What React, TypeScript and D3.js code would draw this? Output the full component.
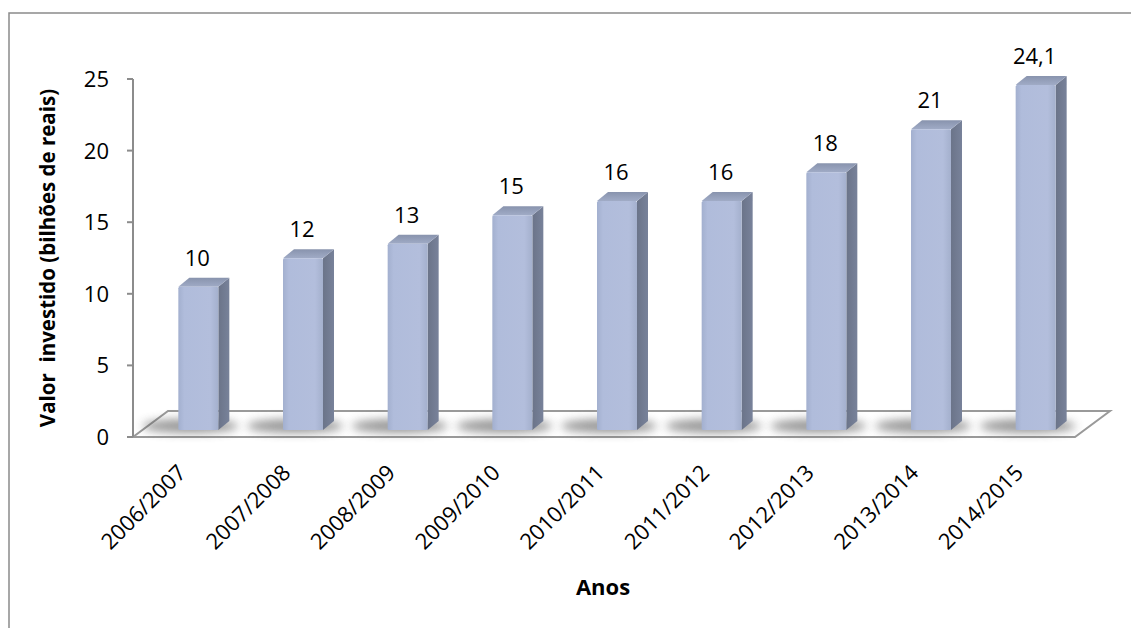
import React from "react";
import * as d3 from "d3";

const categories = ["2006/2007", "2007/2008", "2008/2009", "2009/2010", "2010/2011", "2011/2012", "2012/2013", "2013/2014", "2014/2015"];
const values = [10, 12, 13, 15, 16, 16, 18, 21, 24.1];
const valueLabels = ["10", "12", "13", "15", "16", "16", "18", "21", "24,1"];
const yTicks = [0, 5, 10, 15, 20, 25];

const W = 1131;
const H = 628;
const FONT = "'Open Sans', 'Noto Sans', sans-serif";

export default function App() {
  const y = d3.scaleLinear().domain([0, 25]).range([437, 79]);
  const x = d3.scaleBand<string>().domain(categories).range([133, 1075]).padding(0);
  const bw = x.bandwidth();
  const floorDx = 35;
  const floorDy = -26;
  const barOff = 13;
  const baseLift = 7;
  const faceW = 40;
  const dX = 11;
  const dY = -9;
  const y0 = y(0);

  return (
    <svg width={W} height={H} style={{ position: "fixed", left: 0, top: 0, background: "#fff" }}>
      <defs>
        <linearGradient id="front" x1="0" x2="1" y1="0" y2="0">
          <stop offset="0" stopColor="#a3b0cf" />
          <stop offset="0.15" stopColor="#b0bcdb" />
          <stop offset="0.8" stopColor="#b3bedc" />
          <stop offset="1" stopColor="#a4b0cd" />
        </linearGradient>
        <linearGradient id="side" x1="0" x2="1" y1="0" y2="0">
          <stop offset="0" stopColor="#6b7489" />
          <stop offset="1" stopColor="#78829a" />
        </linearGradient>
        <linearGradient id="top" x1="0" x2="0" y1="1" y2="0">
          <stop offset="0" stopColor="#a0abc6" />
          <stop offset="1" stopColor="#8893ad" />
        </linearGradient>
        <filter id="blur" x="-50%" y="-100%" width="200%" height="300%">
          <feGaussianBlur stdDeviation="5" />
        </filter>
      </defs>

      <rect x={9} y={13} width={1200} height={800} fill="none" stroke="#8a8a8a" strokeWidth={1.5} />

      {/* floor */}
      <polygon
        points={`${x.range()[0]},${y0} ${x.range()[1]},${y0} ${x.range()[1] + floorDx},${y0 + floorDy} ${x.range()[0] + floorDx},${y0 + floorDy}`}
        fill="#fff"
        stroke="#9a9a9a"
        strokeWidth={2}
      />

      {/* shadows */}
      {categories.map((c, i) => {
        const cx = (x(c) as number) + bw / 2 + barOff;
        return (
          <ellipse key={"s" + i} cx={cx - 8} cy={y0 - baseLift - 4} rx={48} ry={7} fill="#555" opacity={0.6} filter="url(#blur)" />
        );
      })}

      {/* y axis */}
      <line x1={133} x2={133} y1={y(25)} y2={y0} stroke="#8c8c8c" strokeWidth={2} />
      {yTicks.map((t) => (
        <g key={t}>
          <line x1={127} x2={133} y1={y(t)} y2={y(t)} stroke="#8c8c8c" strokeWidth={2} />
          <text x={109} y={y(t)} dy="0.36em" textAnchor="end" fontFamily={FONT} fontSize={22} fill="#000">
            {t}
          </text>
        </g>
      ))}

      {/* bars */}
      {categories.map((c, i) => {
        const cx = (x(c) as number) + bw / 2 + barOff;
        const xl = cx - faceW / 2;
        const xr = cx + faceW / 2;
        const yb = y0 - baseLift;
        const yt = y(values[i]) - baseLift;
        return (
          <g key={"b" + i}>
            <polygon points={`${xr},${yt} ${xr + dX},${yt + dY} ${xr + dX},${yb + dY} ${xr},${yb}`} fill="url(#side)" />
            <polygon points={`${xl},${yt} ${xl + dX},${yt + dY} ${xr + dX},${yt + dY} ${xr},${yt}`} fill="url(#top)" />
            <rect x={xl} y={yt} width={faceW} height={yb - yt} fill="url(#front)" rx={1.5} />
            <text x={cx - 1} y={yt - 21} textAnchor="middle" fontFamily={FONT} fontSize={22} fill="#000">
              {valueLabels[i]}
            </text>
          </g>
        );
      })}

      {/* x labels */}
      {categories.map((c, i) => {
        const lx = (x(c) as number) + bw / 2 + 2;
        const ly = 474;
        return (
          <text key={"x" + i} x={lx} y={ly} transform={`rotate(-45 ${lx} ${ly})`} textAnchor="end" fontFamily={FONT} fontSize={22} fill="#000">
            {c}
          </text>
        );
      })}

      {/* axis titles */}
      <text x={603} y={595} textAnchor="middle" fontFamily={FONT} fontSize={22} fontWeight="bold" fill="#000">
        Anos
      </text>
      <text
        x={0}
        y={0}
        transform={`translate(55 ${258}) rotate(-90)`}
        textAnchor="middle"
        fontFamily={FONT}
        fontSize={20.5}
        fontWeight="bold"
        fill="#000"
        style={{ whiteSpace: "pre" }}
      >
        {"Valor  investido (bilhões de reais)"}
      </text>
    </svg>
  );
}
